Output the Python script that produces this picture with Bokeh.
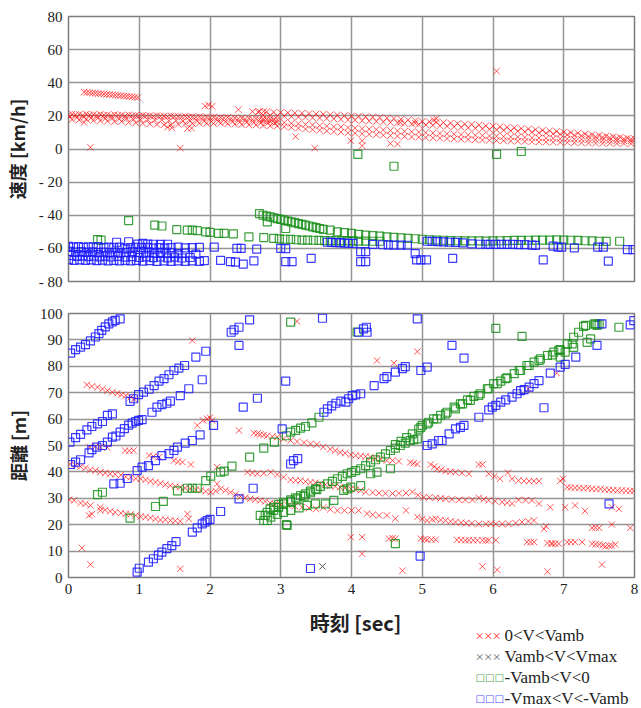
from bokeh.plotting import figure
from bokeh.layouts import column
from bokeh.models import Range1d, FixedTicker
from bokeh.core.properties import value
from bokeh.embed import file_html
from bokeh.resources import INLINE

# ---------------- data: top panel (time [sec], speed [km/h]) ----------------
top_red_a = [(0.22,34.3),(0.26,34.1),(0.30,34.0),(0.34,33.8),(0.38,33.7),(0.42,33.5),(0.46,33.4),(0.50,33.2),(0.54,33.0),(0.58,32.9),(0.62,32.7),(0.66,32.5),(0.70,32.4),(0.74,32.2),(0.78,32.0),(0.82,31.9),(0.86,31.7),(0.90,31.5),(0.94,31.3),(0.98,31.1)]
top_red_b1 = [(0.0,20.6),(0.1,20.8),(0.2,20.4),(0.3,20.7),(0.4,20.3),(0.5,20.5),(0.6,20.2),(0.7,20.4),(0.8,20.0),(0.9,20.2),(1.0,19.9),(1.1,20.0),(1.2,19.7),(1.3,19.8),(1.4,19.5),(1.5,19.6),(1.6,19.3),(1.7,19.4),(1.8,19.1),(1.9,19.0),(2.0,18.9),(2.1,18.6),(2.2,18.7),(2.3,18.4),(2.4,18.3),(2.5,18.1),(2.6,18.0),(2.7,17.8),(2.8,17.7),(2.9,17.5)]
top_red_b2 = [(0.05,17.8),(0.15,17.5),(0.25,17.9),(0.35,17.2),(0.45,17.0),(0.55,16.8),(0.65,16.5),(0.75,16.6),(0.85,16.1),(0.95,15.8),(1.05,15.5),(1.15,15.2),(1.25,14.8),(1.35,14.6),(1.45,14.5),(1.55,14.9),(1.65,15.3),(1.75,15.4),(1.85,15.6),(1.95,15.5),(2.05,15.4),(2.15,15.6),(2.25,15.2),(2.35,15.0),(2.45,14.8),(2.55,14.6),(2.65,14.4),(2.75,14.2),(2.85,14.0),(2.95,13.8)]
top_red_b3 = [(0.02,19.3),(0.12,19.0),(0.22,19.2),(0.32,18.8),(0.42,18.9),(0.52,18.5),(0.62,18.6),(0.72,18.2),(0.82,18.3),(0.92,17.9),(1.02,17.8),(1.12,17.6),(1.22,17.4),(1.32,17.5),(1.42,17.1),(1.52,17.2),(1.62,16.9),(1.72,17.0),(1.82,16.8),(1.92,16.9),(2.02,16.6),(2.12,16.7),(2.22,16.4),(2.32,16.5),(2.42,16.2),(2.52,16.3),(2.62,16.0),(2.72,15.9),(2.82,15.8),(2.92,15.6)]
top_red_b4 = [(0.05,21.0),(0.15,20.9),(0.25,21.1),(0.35,20.8),(0.45,20.9),(0.55,20.6),(0.65,20.8),(0.75,20.5),(0.85,20.6),(0.95,20.3),(1.05,20.4),(1.15,20.1),(1.25,20.2),(1.35,19.9),(1.45,20.0),(1.55,19.7),(1.65,19.8),(1.75,19.5),(1.85,19.5),(1.95,19.3),(2.05,19.2),(2.15,19.0),(2.25,19.1),(2.35,18.8),(2.45,18.7),(2.55,18.5),(2.65,18.4),(2.75,18.2),(2.85,18.1),(2.95,17.9)]
top_red_u = [(2.7,22.6),(2.8,22.5),(2.9,22.3),(3.0,22.1),(3.1,21.9),(3.2,21.8),(3.3,21.6),(3.4,21.4),(3.5,21.2),(3.6,21.0),(3.7,20.7),(3.8,20.5),(3.9,20.2),(4.0,20.0),(4.1,19.8),(4.2,19.5),(4.3,19.3),(4.4,19.0),(4.5,18.7),(4.6,18.4),(4.7,18.0),(4.8,17.6),(4.9,17.2),(5.0,16.6),(5.1,16.5),(5.2,16.3),(5.3,16.0),(5.4,15.7),(5.5,15.4),(5.6,15.1),(5.7,14.8),(5.8,14.5),(5.9,14.1),(6.0,13.8),(6.1,13.5),(6.2,13.1),(6.3,12.8),(6.4,12.4),(6.5,12.1),(6.6,11.7),(6.7,11.3),(6.8,11.0),(6.9,10.6),(7.0,10.2),(7.1,9.9),(7.2,9.5),(7.3,9.1),(7.4,8.7),(7.5,8.3),(7.6,7.9),(7.7,7.5),(7.8,7.1),(7.9,6.6),(8.0,6.2)]
top_red_u2 = [(2.75,20.5),(2.85,20.2),(2.95,20.0),(3.05,19.8),(3.15,19.6),(3.25,19.3),(3.35,19.2),(3.45,18.9),(3.55,18.7),(3.65,18.4),(3.75,18.2),(3.85,17.9),(3.95,17.6),(4.05,17.4),(4.15,17.1),(4.25,16.8),(4.35,16.6),(4.45,16.3),(4.55,16.0),(4.65,15.7),(4.75,15.4),(4.85,15.1),(4.95,14.8),(5.05,14.5),(5.15,14.3),(5.25,14.0),(5.35,13.7),(5.45,13.4),(5.55,13.1),(5.65,12.8),(5.75,12.5),(5.85,12.2),(5.95,11.9),(6.05,11.6),(6.15,11.3),(6.25,11.0),(6.35,10.7),(6.45,10.4),(6.55,10.1),(6.65,9.8),(6.75,9.5),(6.85,9.2),(6.95,8.9),(7.05,8.6),(7.15,8.3),(7.25,8.0),(7.35,7.7),(7.45,7.4),(7.55,7.1),(7.65,6.8),(7.75,6.5),(7.85,6.2),(7.95,5.9)]
top_red_m = [(2.75,17.0),(2.85,16.6),(2.95,16.3),(3.05,15.9),(3.15,15.5),(3.25,15.2),(3.35,14.8),(3.45,14.5),(3.55,14.1),(3.65,13.8),(3.75,13.5),(3.85,13.2),(3.95,12.9),(4.05,12.6),(4.15,12.3),(4.25,12.0),(4.35,11.8),(4.45,11.5),(4.55,11.2),(4.65,11.0),(4.75,10.7),(4.85,10.4),(4.95,10.2),(5.05,9.9),(5.15,9.6),(5.25,9.4),(5.35,9.2),(5.45,9.0),(5.55,8.7),(5.65,8.5),(5.75,8.3),(5.85,8.1),(5.95,7.9),(6.05,7.7),(6.15,7.5),(6.25,7.3),(6.35,7.2),(6.45,7.0),(6.55,6.8),(6.65,6.7),(6.75,6.5),(6.85,6.4),(6.95,6.2),(7.05,6.1),(7.15,5.9),(7.25,5.8),(7.35,5.6),(7.45,5.5),(7.55,5.3),(7.65,5.2),(7.75,5.0),(7.85,4.9),(7.95,4.7)]
top_red_l = [(3.05,13.5),(3.15,13.0),(3.25,12.6),(3.35,12.1),(3.45,11.7),(3.55,11.3),(3.65,10.9),(3.75,10.5),(3.85,10.2),(3.95,9.8),(4.05,9.5),(4.15,9.2),(4.25,8.9),(4.35,8.6),(4.45,8.3),(4.55,8.1),(4.65,7.8),(4.75,7.6),(4.85,7.3),(4.95,7.1),(5.05,6.9),(5.15,6.7),(5.25,6.5),(5.35,6.3),(5.45,6.1),(5.55,5.9),(5.65,5.8),(5.75,5.6),(5.85,5.4),(5.95,5.3),(6.05,5.1),(6.15,5.0),(6.25,4.8),(6.35,4.7),(6.45,4.6),(6.55,4.4),(6.65,4.3),(6.75,4.2),(6.85,4.1),(6.95,4.0),(7.05,3.9),(7.15,3.8),(7.25,3.7),(7.35,3.6),(7.45,3.5),(7.55,3.5),(7.65,3.4),(7.75,3.3),(7.85,3.3),(7.95,3.2)]
top_red_s = [(0.31,1.0),(1.58,0.5),(3.48,0.5),(1.93,26.0),(1.98,26.5),(2.03,25.8),(2.4,23.8),(2.6,22.6),(2.68,22.4),(2.76,22.7),(0.22,16.0),(1.68,12.3),(1.74,12.6),(1.4,13.2),(1.46,12.8),(3.21,7.5),(3.99,5.0),(4.15,2.0),(4.15,5.0),(4.55,3.3),(4.65,3.0),(4.69,16.0),(4.9,15.6),(6.05,47.0),(5.16,17.5),(5.2,18.3)]

top_green_s = [(0.41,-54.7),(0.46,-55.0),(0.85,-43.2),(1.22,-46.0),(1.32,-46.5),(1.53,-48.7),(1.68,-49.0),(1.75,-49.0),(1.82,-49.3),(1.94,-50.0),(2.0,-50.3),(2.12,-51.0),(2.2,-51.0),(2.33,-51.2),(2.55,-53.0),(2.76,-53.5),(2.81,-44.0),(3.07,-48.0),(4.09,-3.3),(4.6,-10.4),(6.05,-3.3),(6.4,-1.5),(7.79,-55.7)]
top_green_c = [(2.7,-39.0),(2.75,-40.0),(2.8,-40.5),(2.85,-41.0),(2.9,-41.5),(2.95,-42.0),(3.0,-42.5),(3.05,-43.0),(3.1,-43.5),(3.15,-44.0),(3.2,-44.5),(3.25,-45.0),(3.3,-45.5),(3.35,-46.0),(3.4,-46.5),(3.45,-47.0),(3.5,-47.5),(3.55,-48.0),(3.6,-48.5),(3.7,-49.0),(3.8,-50.0),(3.9,-50.5),(4.0,-51.0),(4.1,-51.5),(4.2,-52.0),(4.3,-52.3),(4.4,-52.6),(4.5,-53.0),(4.6,-53.3),(4.7,-53.6),(4.8,-54.0),(4.9,-54.2),(5.0,-54.5),(5.1,-54.8),(5.2,-55.0),(5.3,-55.1),(5.4,-55.3),(5.5,-55.4),(5.6,-55.5),(5.7,-55.5),(5.8,-55.5),(5.9,-55.6),(6.0,-55.5),(6.1,-55.4),(6.2,-55.3),(6.3,-55.2),(6.4,-55.2),(6.5,-55.1),(6.6,-55.0),(6.7,-55.0),(6.8,-55.0),(6.9,-54.9),(7.0,-55.0),(7.1,-55.1),(7.2,-55.2),(7.3,-55.4),(7.4,-55.5),(7.5,-55.7),(7.6,-55.8)]
top_green_l = [(2.9,-54.0),(2.98,-54.3),(3.06,-54.5),(3.14,-54.6),(3.22,-54.8),(3.3,-55.0),(3.38,-55.0),(3.46,-55.1),(3.54,-55.2),(3.62,-55.3),(3.7,-55.3),(3.78,-55.4),(3.86,-55.5),(3.94,-55.5),(4.02,-55.5),(4.1,-55.6),(4.2,-55.6),(4.3,-55.7),(4.4,-55.7)]

top_blue_r1 = [(0.0,-58.8),(0.07,-59.2),(0.14,-59.0),(0.21,-59.4),(0.28,-59.1),(0.35,-59.3),(0.42,-59.0),(0.5,-59.5),(0.57,-59.2),(0.64,-59.6),(0.72,-59.3),(0.8,-59.8),(0.88,-59.5),(0.95,-59.2),(1.03,-59.6),(1.12,-59.4),(1.2,-59.8),(1.28,-59.5),(1.36,-59.9),(1.45,-59.6),(1.55,-59.3),(1.65,-59.7),(1.75,-59.5),(1.85,-59.4),(0.68,-56.3),(0.85,-56.0),(0.98,-57.4),(1.05,-57.0),(1.12,-57.4),(1.2,-57.5),(1.3,-57.6),(1.4,-57.5)]
top_blue_r2 = [(0.02,-61.8),(0.1,-62.2),(0.18,-62.0),(0.26,-62.4),(0.34,-62.1),(0.42,-62.5),(0.5,-62.2),(0.58,-62.6),(0.66,-62.3),(0.74,-62.7),(0.82,-62.4),(0.9,-62.0),(0.98,-62.5),(1.06,-62.8),(1.14,-62.4),(1.22,-62.9),(1.3,-62.6),(1.38,-63.0),(1.46,-62.7),(1.55,-63.2),(1.65,-62.9),(1.8,-63.5)]
top_blue_r3 = [(0.04,-64.3),(0.12,-64.8),(0.2,-64.5),(0.28,-65.0),(0.36,-64.6),(0.44,-65.1),(0.52,-64.7),(0.6,-65.2),(0.7,-64.8),(0.8,-65.3),(0.9,-65.0),(1.0,-65.5),(1.1,-65.1),(1.2,-65.6),(1.3,-65.2),(1.4,-65.7),(1.5,-65.3),(1.6,-65.8),(1.72,-65.5)]
top_blue_r4 = [(0.0,-66.8),(0.08,-67.2),(0.16,-66.9),(0.24,-67.3),(0.32,-67.0),(0.4,-67.4),(0.48,-67.1),(0.56,-67.5),(0.64,-67.2),(0.72,-67.6),(0.8,-67.3),(0.88,-67.6),(0.96,-67.3),(1.05,-67.7),(1.15,-67.4),(1.25,-67.8),(1.35,-67.5),(1.45,-67.9),(1.55,-67.6),(1.65,-67.8),(1.75,-67.5),(1.85,-67.8),(1.92,-67.4)]
top_blue_s = [(2.06,-59.3),(2.38,-60.0),(2.44,-60.0),(2.66,-60.4),(3.0,-60.0),(3.07,-60.2),(2.15,-67.3),(2.29,-68.0),(2.36,-68.3),(2.47,-69.5),(2.62,-67.5),(3.07,-68.0),(3.16,-68.0),(3.43,-66.0),(3.66,-56.3),(3.72,-56.4),(3.78,-56.5),(3.84,-56.5),(3.9,-56.8),(3.96,-56.9),(4.02,-57.0),(4.3,-57.6),(4.44,-57.8),(4.52,-57.9),(4.6,-58.0),(4.7,-58.0),(4.79,-58.1),(4.13,-62.0),(4.2,-62.0),(4.13,-68.0),(4.2,-68.0),(4.9,-63.2),(4.92,-67.0),(4.98,-67.0),(5.06,-67.0),(5.43,-66.0),(5.07,-55.7),(5.14,-55.8),(5.22,-55.9),(5.3,-56.1),(5.38,-56.3),(5.47,-56.4),(5.57,-56.7),(5.7,-57.3),(5.82,-57.5),(5.9,-57.5),(5.96,-57.6),(6.04,-57.6),(6.12,-57.6),(6.2,-57.6),(6.28,-57.6),(6.36,-57.7),(6.45,-57.7),(6.55,-58.0),(6.6,-58.2),(6.71,-67.0),(6.85,-58.6),(6.92,-59.3),(6.97,-59.3),(7.15,-59.7),(7.48,-59.3),(7.56,-59.3),(7.63,-67.7),(7.9,-60.8),(7.98,-60.8)]

# ---------------- data: bottom panel (time [sec], distance [m]) ----------------
bot_red_a = [(0.26,73.0),(0.33,72.4),(0.41,72.1),(0.48,71.4),(0.55,70.8),(0.62,70.2),(0.69,69.8),(0.75,69.2),(0.81,68.9),(0.88,68.3),(0.93,67.6)]
bot_red_b = [(0.01,29.5),(0.08,29.2),(0.17,28.2),(0.24,27.9),(0.31,27.3),(0.45,25.4),(0.52,25.6),(0.59,25.1),(0.66,24.7),(0.74,24.4),(0.81,24.1),(0.88,23.9),(0.95,23.5),(1.02,23.1),(1.09,22.9),(1.16,22.6),(1.23,22.2),(1.30,21.8),(1.37,21.9),(1.44,21.6),(1.51,21.5),(1.58,21.3)]
bot_red_c = [(0.03,43.0),(0.10,42.5),(0.17,42.0),(0.24,41.5),(0.31,40.8),(0.38,40.5),(0.45,39.9),(0.52,39.6),(0.59,39.3),(0.66,39.1),(0.74,38.8),(0.81,38.2),(0.88,38.0),(0.95,37.5),(1.02,37.4),(1.09,37.0),(1.16,36.5),(1.23,36.1),(1.30,35.7),(1.37,35.2),(1.44,34.8),(1.51,34.5),(1.58,34.2),(1.65,33.9),(1.72,33.6),(1.80,33.3),(1.87,33.0),(1.94,32.6),(2.01,32.3),(2.08,32.8),(2.10,35.5),(2.15,33.6),(2.22,33.0),(2.29,32.3),(2.36,31.5),(2.43,30.7),(2.50,30.2),(2.57,29.8),(2.64,29.5),(2.71,29.2),(2.78,28.8),(2.85,28.2),(2.92,27.9),(3.00,27.6),(3.10,27.3),(3.20,27.0),(3.30,26.6),(3.40,26.3),(3.50,26.0),(3.60,26.5),(3.70,25.8),(3.80,25.4),(3.90,25.4),(4.00,25.4),(4.10,25.4),(4.22,24.2),(4.30,23.8),(4.39,23.5),(4.50,23.5),(4.62,22.3),(4.77,25.4),(4.93,22.9),(5.00,22.2),(5.07,21.6),(5.14,22.0),(5.19,22.3),(5.26,21.8),(5.33,21.6),(5.40,21.3),(5.47,21.0),(5.55,20.8),(5.62,20.6),(5.70,20.5),(5.80,20.3),(5.90,20.3),(5.97,20.4),(6.04,20.3),(6.13,20.3),(6.22,20.3),(6.32,20.6),(6.41,21.0),(6.50,21.3),(6.58,21.6),(6.72,18.4),(6.75,19.4)]
bot_red_d = [(0.30,49.4),(0.38,49.6),(0.45,49.4),(0.55,49.2),(0.80,48.1),(0.86,48.0),(0.92,48.1),(1.14,46.2),(1.20,45.8),(1.28,45.6),(1.49,44.3),(1.55,43.9),(1.61,43.7),(1.73,42.8),(2.10,41.8),(0.19,11.2),(0.31,4.9),(1.58,3.3),(1.75,89.8),(0.29,23.5),(0.33,24.0),(0.45,26.6),(1.68,24.1),(1.70,22.2),(1.82,57.6),(1.90,59.5),(1.96,60.1),(2.00,60.5),(2.03,59.5)]
bot_red_g = [(2.41,55.7),(2.62,54.7),(2.67,54.5),(2.71,54.2),(2.76,54.0),(2.81,53.7),(2.88,53.4),(2.95,53.2),(3.04,52.5),(3.14,51.9),(3.23,51.5),(3.33,51.1),(3.42,50.6),(3.51,50.4),(3.60,49.4),(3.70,48.6),(3.77,48.1),(3.84,47.4),(3.91,47.1),(3.99,46.5),(4.06,46.2),(4.13,46.0),(4.20,45.8),(4.27,45.6),(4.34,45.2),(4.41,44.9),(4.50,44.3),(4.58,44.3),(4.67,44.0),(4.83,43.6),(4.88,43.3),(4.93,43.0),(5.12,42.8),(5.17,42.0),(5.21,41.2),(5.27,40.8),(5.33,40.3),(5.40,40.1),(5.47,39.9),(5.56,39.6),(5.66,39.3),(5.80,42.8),(5.85,42.8),(5.94,39.3),(6.02,38.4),(6.10,37.4),(6.21,39.7),(6.27,37.4),(6.36,36.7),(6.44,36.6),(6.51,36.5),(6.58,36.5),(6.65,36.5),(6.95,36.6),(6.99,37.4),(7.05,34.2),(7.10,34.1),(7.16,34.0),(7.22,33.9),(7.28,33.8),(7.34,33.8),(7.40,33.6),(7.46,33.5),(7.52,33.5),(7.58,33.3),(7.64,33.2),(7.70,33.1),(7.76,33.0),(7.82,33.0),(7.88,32.9),(7.94,32.8),(7.99,32.8)]
bot_red_h = [(2.53,39.9),(2.60,39.6),(2.67,39.3),(2.76,39.5),(2.86,39.9),(2.95,39.0),(3.04,38.0),(3.14,37.0),(3.21,36.8),(3.28,36.7),(3.35,36.4),(3.42,36.1),(3.49,35.9),(3.56,35.5),(3.63,35.2),(3.70,34.8),(3.77,34.5),(3.84,34.2),(3.91,33.9),(3.99,33.6),(4.06,33.3),(4.13,33.0),(4.20,32.4),(4.30,32.2),(4.39,32.0),(4.48,31.9),(4.58,31.8),(4.67,31.9),(4.77,32.0),(4.86,32.4),(4.94,31.2),(5.02,30.4),(5.10,30.3),(5.19,30.2),(5.26,30.0),(5.33,29.8),(5.42,29.6),(5.52,29.4),(5.61,29.4),(5.71,29.4),(5.80,30.2),(5.87,29.6),(5.94,29.2),(6.03,28.9),(6.13,28.6),(6.20,28.3),(6.27,28.0),(6.36,29.4),(6.46,29.3),(6.55,29.2),(6.65,28.0),(6.81,26.6),(7.02,26.6),(7.16,27.3),(7.30,25.2),(7.68,26.6),(7.78,26.0)]
bot_red_i = [(3.99,15.3),(4.15,15.3),(4.53,14.7),(4.58,14.9),(4.62,14.7),(4.98,14.7),(5.03,14.5),(5.07,14.3),(5.13,14.4),(5.19,14.3),(5.49,14.3),(5.55,14.2),(5.61,14.1),(5.66,14.1),(5.72,14.1),(5.78,14.1),(5.85,14.1),(5.90,14.0),(5.94,14.1),(6.04,14.1),(6.48,13.4),(6.53,13.4),(6.58,13.4),(6.77,13.0),(6.82,12.9),(6.84,12.8),(6.88,12.8),(6.93,12.8),(7.05,13.4),(7.10,13.4),(7.16,13.4),(7.26,13.4),(7.40,12.8),(7.45,12.6),(7.50,12.5),(7.55,12.2),(7.59,11.8),(7.64,12.0),(7.68,12.1),(7.73,12.5),(7.40,18.8),(7.45,18.9),(7.50,18.8),(7.68,20.1),(7.94,18.8),(4.15,9.0),(4.72,2.6),(5.85,4.2),(6.06,2.9),(6.77,2.2),(7.54,4.9),(4.93,85.6),(4.36,82.2),(4.60,81.2),(6.90,77.4),(6.50,71.5),(3.23,97.0)]
bot_gray = [(3.59,4.2)]

bot_green_a = [(0.41,31.4),(0.48,32.3),(0.87,22.5),(1.23,26.9),(1.34,28.8),(1.54,32.8),(1.68,33.8),(1.75,33.8),(1.82,33.8),(1.94,36.7),(2.01,38.4),(2.15,39.9),(2.20,40.3),(2.31,42.2),(2.56,45.6),(2.76,49.0),(2.91,51.3),(3.08,53.7),(3.14,55.1),(3.21,55.7),(3.28,56.6),(3.35,57.2),(3.44,58.6),(3.54,60.7),(3.14,96.7),(3.09,19.7),(2.81,21.6),(3.08,20.0),(4.08,93.0),(6.04,94.4),(6.41,91.3),(6.95,83.5),(7.33,89.1),(7.38,90.4),(7.45,96.1),(7.78,94.8),(4.62,12.8),(7.02,85.4),(7.14,87.2)]
bot_green_b = [(2.71,23.5),(2.78,23.5),(2.85,26.0),(2.90,26.6),(2.97,27.7),(3.04,28.5),(3.14,29.4),(3.21,30.2),(3.28,31.0),(3.35,31.7),(3.42,32.7),(3.49,33.6),(3.56,34.5),(3.66,35.5),(3.73,36.4),(3.80,37.4),(3.87,38.3),(3.94,39.3),(4.00,39.8),(4.06,40.5),(4.13,41.2),(4.20,42.4),(4.27,43.7),(4.34,44.6),(4.41,45.6),(4.48,46.8),(4.55,48.1),(4.62,49.0),(4.69,50.0),(4.76,50.9),(4.83,51.9),(4.88,52.2),(4.93,52.5)]
bot_green_c = [(2.76,21.6),(2.86,22.9),(2.95,23.9),(3.04,24.7),(3.14,25.4),(3.26,26.4),(3.37,27.3),(3.49,27.9),(3.63,27.9),(3.75,29.2),(3.89,33.0),(3.94,33.6),(3.99,34.2),(4.13,34.8),(4.27,39.3),(4.36,39.9),(4.55,41.2),(2.81,24.7),(2.90,25.4),(2.97,26.6),(3.04,27.9),(3.14,28.8),(3.23,29.8),(3.33,30.8),(3.42,32.1),(3.51,33.3)]
bot_green_d = [(4.62,50.3),(4.70,51.6),(4.78,53.0),(4.86,54.4),(4.95,56.2),(4.98,56.9),(5.00,57.6),(5.07,58.2),(5.09,58.8),(5.16,60.1),(5.21,60.1),(5.26,61.4),(5.33,62.0),(5.35,62.6),(5.45,64.5),(5.47,63.9),(5.54,65.8),(5.57,65.8),(5.64,67.3),(5.68,67.1),(5.73,68.6),(5.80,69.0),(5.82,69.6),(5.92,71.5),(5.94,71.5),(6.01,73.4),(6.06,73.4),(6.11,74.4),(6.18,75.3),(6.20,75.6),(6.30,77.2),(6.37,78.4),(6.39,78.4),(6.48,80.3),(6.51,80.3),(6.58,81.6),(6.65,82.2),(6.67,82.8),(6.77,84.1),(6.84,84.3),(6.86,85.4),(6.93,86.0),(6.95,86.3),(7.05,88.5),(7.12,88.5),(7.14,91.0),(7.21,92.9),(7.28,95.1),(7.31,95.5),(7.43,96.0),(7.47,95.5),(7.50,96.0)]

bot_blue_a = [(0.03,85.0),(0.10,86.3),(0.17,87.3),(0.24,88.2),(0.31,89.6),(0.38,91.1),(0.43,92.4),(0.47,93.6),(0.52,94.9),(0.57,96.1),(0.62,96.8),(0.66,97.4),(0.73,98.0),(0.02,51.3),(0.10,53.0),(0.17,54.2),(0.26,55.9),(0.33,57.2),(0.41,58.2),(0.48,59.1),(0.55,61.4),(0.62,62.0),(0.87,66.7),(0.92,67.7),(0.99,69.3),(1.06,70.2),(1.14,71.3),(1.21,72.7),(1.28,74.4),(1.35,75.3),(1.42,76.8),(1.49,78.4),(1.56,79.3),(1.64,80.3),(1.80,83.5),(1.94,85.7),(2.30,92.9),(2.34,93.8),(2.41,94.8),(2.56,97.6)]
bot_blue_b = [(0.03,42.8),(0.10,43.7),(0.17,44.6),(0.29,47.2),(0.33,48.4),(0.40,49.4),(0.48,50.0),(0.55,51.3),(0.62,53.2),(0.67,53.6),(0.73,55.1),(0.79,56.4),(0.85,57.7),(0.90,58.5),(0.95,59.1),(0.99,59.5),(1.04,59.8),(1.18,62.6),(1.25,64.5),(1.32,65.5),(1.39,66.0),(1.44,66.8),(1.58,68.9),(1.70,71.5),(0.64,35.5),(0.73,35.7),(0.83,37.5),(0.97,40.5),(1.04,41.8),(1.13,42.4),(1.23,44.3),(1.32,46.2),(1.42,46.9),(1.49,48.1),(1.54,49.4),(1.65,50.9),(1.75,51.9),(1.86,54.0),(2.05,57.6)]
bot_blue_c = [(0.97,2.0),(1.00,3.5),(1.13,5.8),(1.20,7.1),(1.27,8.5),(1.32,9.6),(1.39,10.9),(1.46,12.1),(1.52,13.6),(1.75,17.2),(1.82,18.8),(1.89,20.3),(1.93,21.0),(1.96,21.6),(2.00,22.0),(2.15,25.0),(2.41,29.8),(2.61,33.8),(1.89,74.9),(2.41,87.9),(2.47,64.5),(2.67,67.9),(3.07,74.4),(3.02,56.3),(3.14,43.0),(3.18,44.3),(3.24,45.0),(3.42,3.4),(3.59,98.2)]
bot_blue_d = [(3.61,62.6),(3.66,63.9),(3.72,65.0),(3.78,66.0),(3.85,66.8),(3.92,66.4),(3.96,67.7),(4.01,68.9),(4.06,69.2),(4.13,69.6),(4.32,72.7),(4.46,75.3),(4.50,76.1),(4.62,77.8),(4.72,79.1),(4.76,79.9),(4.98,78.4),(5.07,79.7),(4.10,92.9),(4.17,94.2),(4.21,94.8),(4.22,92.9),(4.93,98.0),(5.42,87.9),(5.59,83.1),(4.97,8.1),(7.64,27.9),(5.07,50.0),(5.14,50.6),(5.23,51.9),(5.28,51.9),(5.38,54.4),(5.47,56.3),(5.54,56.9),(5.59,57.6),(5.80,60.7),(5.94,63.5),(5.99,64.5),(6.04,65.2),(6.11,66.4),(6.18,67.3),(6.27,68.3),(6.34,69.6),(6.39,70.8),(6.44,71.2),(6.51,72.1),(6.58,73.4),(6.65,74.6),(6.81,77.4),(6.95,79.7),(7.02,80.7),(7.17,83.5),(6.72,64.3),(7.47,87.9),(7.54,96.1),(7.94,95.7),(7.99,97.3)]

x_ticks = [0, 1, 2, 3, 4, 5, 6, 7, 8]
top_y_ticks = [-80, -60, -40, -20, 0, 20, 40, 60, 80]
top_y_labels = {-80: "- 80", -60: "- 60", -40: "- 40", -20: "- 20"}
bot_y_ticks = [0, 10, 20, 30, 40, 50, 60, 70, 80, 90, 100]

x_title = "時刻 [sec]"
legend_marks = ["×××", "×××", "□□□", "□□□"]
legend_texts = ["0<V<Vamb", "Vamb<V<Vmax", "-Vamb<V<0", "-Vmax<V<-Vamb"]

RED = "#ff0000"
GRAY = "#555555"
GREEN = "#1a8f1a"
BLUE = "#1a1aff"
GRID = "#959595"
SERIF = "Liberation Serif"
CJK = "Noto Sans CJK JP"

LEFT, RIGHT = 68, 7   # frame borders shared by all stacked panels


def xs(*segs):
    return [p[0] for s in segs for p in s]


def ys(*segs):
    return [p[1] for s in segs for p in s]


def style(p, yticks, overrides, ylabel):
    p.outline_line_color = "#7d7d7d"
    p.outline_line_width = 1.5
    p.xaxis.ticker = FixedTicker(ticks=x_ticks)
    p.yaxis.ticker = FixedTicker(ticks=yticks)
    p.yaxis.major_label_overrides = overrides
    for ax in (p.xaxis, p.yaxis):
        ax.axis_line_color = None
        ax.major_tick_line_color = None
        ax.minor_tick_line_color = None
        ax.major_tick_out = 0
        ax.major_tick_in = 0
        ax.minor_tick_out = 0
        ax.minor_tick_in = 0
        ax.major_label_text_font = SERIF
        ax.major_label_text_font_size = "15px"
        ax.major_label_text_color = "#222222"
        ax.major_label_standoff = 6
        ax.axis_label_text_font = CJK
        ax.axis_label_text_font_style = "bold"
        ax.axis_label_text_font_size = "18px"
        ax.axis_label_text_color = "#222222"
    p.yaxis.axis_label = ylabel
    p.yaxis.axis_label_standoff = 6
    p.grid.grid_line_color = GRID
    p.grid.grid_line_width = 1.5


RED_KW = dict(marker="x", size=9, line_color=RED, line_alpha=0.65, line_width=1)
SQ_KW = dict(marker="square", size=8, fill_color=None, line_width=1.2, line_alpha=0.85)

p1 = figure(width=641, height=297, x_range=Range1d(0, 8), y_range=Range1d(-80, 80),
            output_backend="svg", toolbar_location=None,
            min_border_left=LEFT, min_border_right=RIGHT, min_border_top=16, min_border_bottom=16)
style(p1, top_y_ticks, top_y_labels, "速度 [km/h]")
p1.xaxis.visible = False

p1.scatter(xs(top_red_a, top_red_b1, top_red_b2, top_red_b3, top_red_b4, top_red_u, top_red_u2, top_red_m, top_red_l, top_red_s),
           ys(top_red_a, top_red_b1, top_red_b2, top_red_b3, top_red_b4, top_red_u, top_red_u2, top_red_m, top_red_l, top_red_s),
           **RED_KW)
p1.scatter(xs(top_green_s, top_green_c, top_green_l), ys(top_green_s, top_green_c, top_green_l),
           line_color=GREEN, **SQ_KW)
p1.scatter(xs(top_blue_r1, top_blue_r2, top_blue_r3, top_blue_r4, top_blue_s),
           ys(top_blue_r1, top_blue_r2, top_blue_r3, top_blue_r4, top_blue_s),
           line_color=BLUE, **SQ_KW)

p2 = figure(width=641, height=308, x_range=Range1d(0, 8), y_range=Range1d(0, 100),
            output_backend="svg", toolbar_location=None,
            min_border_left=LEFT, min_border_right=RIGHT, min_border_top=16, min_border_bottom=28)
style(p2, bot_y_ticks, {}, "距離 [m]")

p2.scatter(xs(bot_red_a, bot_red_b, bot_red_c, bot_red_d, bot_red_g, bot_red_h, bot_red_i),
           ys(bot_red_a, bot_red_b, bot_red_c, bot_red_d, bot_red_g, bot_red_h, bot_red_i),
           **RED_KW)
p2.scatter(xs(bot_gray), ys(bot_gray), marker="x", size=9, line_color=GRAY, line_width=1)
p2.scatter(xs(bot_green_a, bot_green_b, bot_green_c, bot_green_d),
           ys(bot_green_a, bot_green_b, bot_green_c, bot_green_d),
           line_color=GREEN, **SQ_KW)
p2.scatter(xs(bot_blue_a, bot_blue_b, bot_blue_c, bot_blue_d),
           ys(bot_blue_a, bot_blue_b, bot_blue_c, bot_blue_d),
           line_color=BLUE, **SQ_KW)

# footer: x-axis title and legend; its frame has the same borders as the plots,
# and its x range is the page's pixel column range so texts sit at page positions
p3 = figure(width=641, height=103, x_range=Range1d(LEFT, 641 - RIGHT), y_range=Range1d(103, 0),
            output_backend="svg", toolbar_location=None,
            min_border_left=LEFT, min_border_right=RIGHT, min_border_top=0, min_border_bottom=0)
p3.axis.visible = False
p3.grid.visible = False
p3.outline_line_color = None

p3.text(x=[355], y=[17], text=[x_title], text_font=value(CJK), text_font_style="bold",
        text_font_size="20px", text_color="#222222", text_align="center", text_baseline="middle")

legend_colors = [RED, GRAY, GREEN, BLUE]
legend_rows = [30, 51, 72, 93]
for mark, txt, col, yy in zip(legend_marks, legend_texts, legend_colors, legend_rows):
    is_sq = mark.startswith("□")
    p3.text(x=[475], y=[yy], text=[mark], text_color=col,
            text_font=value("DejaVu Sans" if is_sq else SERIF),
            text_font_size="10px" if is_sq else "15px", text_baseline="middle", text_alpha=0.85)
    p3.text(x=[504], y=[yy], text=[txt], text_color="#222222", text_font=value(SERIF),
            text_font_size="17px", text_baseline="middle")

layout = column(p1, p2, p3, spacing=0)
open("out.html", "w").write(file_html(layout, INLINE))
